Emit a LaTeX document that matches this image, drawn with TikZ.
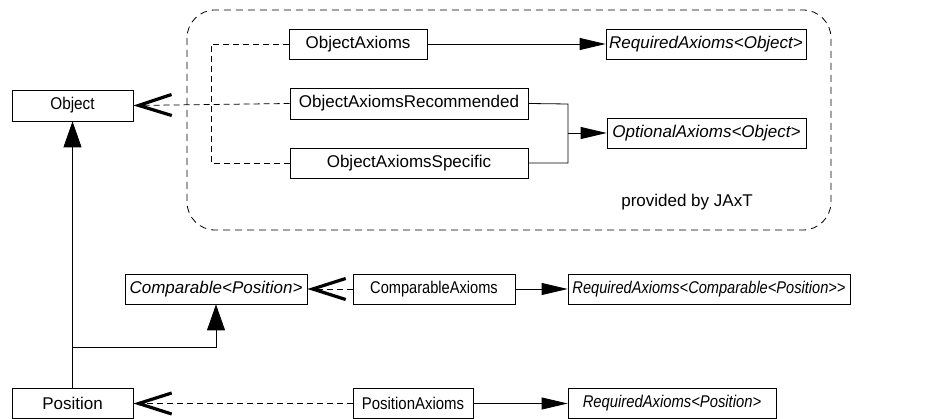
\documentclass[tikz,border=0pt]{standalone}
\usepackage{fontspec}
\setmainfont[Ligatures=NoCommon]{Liberation Sans}
\usetikzlibrary{arrows.meta}
\tikzset{
  box/.style={draw, line width=0.8pt, inner sep=0pt, anchor=center, font=\fontsize{17}{19}\selectfont},
  ital/.style={box, font=\fontsize{17}{19}\selectfont\itshape},
  conn/.style={line width=0.8pt},
  dconn/.style={line width=0.8pt, dash pattern=on 6pt off 4pt},
  realize/.style={dconn, -{Straight Barb[length=33pt, width=21pt, line width=3.2pt]}},
  inherit/.style={conn, -{Triangle[length=26pt, width=18pt]}},
  assoc/.style={conn, -{Triangle[length=26pt, width=12pt]}},
  grp/.style={line width=0.8pt, dash pattern=on 7pt off 5pt, rounded corners=28pt}
}
\begin{document}
\begin{tikzpicture}[x=1pt, y=-1pt]
\useasboundingbox (0,0) rectangle (939,419);
% group
\draw[grp] (187,10) rectangle (831,230);
\node[font=\fontsize{17}{19}\selectfont] (jaxt) at (687,202) {provided by JAxT};
% nodes
\node[box, minimum width=121pt, minimum height=31pt] (obj) at (72.5,105.5) {\scalebox{0.9}[1]{Object}};
\node[box, minimum width=138pt, minimum height=30pt] (oa) at (358,44) {ObjectAxioms};
\node[box, minimum width=238pt, minimum height=31pt] (or) at (409,103.5) {ObjectAxiomsRecommended};
\node[box, minimum width=238pt, minimum height=30pt] (os) at (409,163) {ObjectAxiomsSpecific};
\node[ital, minimum width=200pt, minimum height=30pt] (ro) at (706,44) {RequiredAxioms<Object>};
\node[ital, minimum width=199pt, minimum height=30pt] (oo) at (706.5,133) {OptionalAxioms<Object>};
\node[ital, minimum width=182pt, minimum height=30pt] (comp) at (216,289) {Comparable<Position>};
\node[box, minimum width=162pt, minimum height=30pt] (ca) at (434,289) {\scalebox{0.86}[1]{ComparableAxioms}};
\node[ital, minimum width=282pt, minimum height=30pt] (rc) at (709,289) {\scalebox{0.86}[1]{RequiredAxioms<Comparable<Position>{}>}};
\node[box, minimum width=121pt, minimum height=30pt] (pos) at (72.5,403.5) {Position};
\node[box, minimum width=120pt, minimum height=30pt] (pa) at (413,403.5) {\scalebox{0.88}[1]{PositionAxioms}};
\node[ital, minimum width=208pt, minimum height=30pt] (rp) at (672,403.5) {\scalebox{0.87}[1]{RequiredAxioms<Position>}};
% coordinates
\coordinate (jl) at (211,44);
\coordinate (jr) at (568,104);
\coordinate (jb) at (73,347);
% object axioms
\draw[dconn] (oa.west) -- (jl) |- (os.west);
\draw[realize] (or.west) -- (obj.east);
\draw[assoc] (oa.east) -- (ro.west);
\draw[conn] (or.east) -- (jr) |- (os.east);
\draw[assoc] (jr |- oo.west) -- (oo.west);
% inheritance
\draw[inherit] (pos.north) -- (obj.south);
\draw[inherit] (jb) -| (comp.south);
% comparable
\draw[realize] (ca.west) -- (comp.east);
\draw[assoc] (ca.east) -- (rc.west);
% position
\draw[realize] (pa.west) -- (pos.east);
\draw[assoc] (pa.east) -- (rp.west);
\end{tikzpicture}
\end{document}
